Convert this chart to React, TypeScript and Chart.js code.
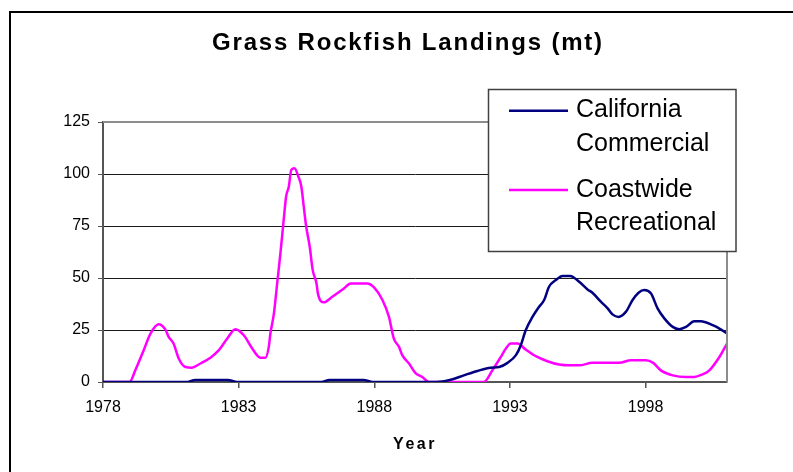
import React, { useEffect, useRef } from 'react';
import { Chart, registerables } from 'chart.js';

Chart.register(...registerables);

const chartTitle = 'Grass Rockfish Landings (mt)';
const xAxisTitle = 'Year';
const yearTicks = [1978, 1983, 1988, 1993, 1998];
const landingTicks = [0, 25, 50, 75, 100, 125];
const seriesNames = ['California Commercial', 'Coastwide Recreational'];
const legendLines = [
  ['California', 'Commercial'],
  ['Coastwide', 'Recreational'],
];
const seriesColors = ['#000080', '#ff00ff'];

const commercialYears = [
  1978, 1981.1, 1981.4, 1982.6, 1982.95, 1986.05, 1986.35, 1987.6, 1987.95, 1990.3,
  1990.82, 1991.3, 1991.8, 1992.29, 1992.6, 1992.91, 1993.22, 1993.4, 1993.58, 1993.83,
  1994.07, 1994.26, 1994.44, 1994.69, 1994.94, 1995.22, 1995.55, 1995.86, 1996.04, 1996.35,
  1996.6, 1996.78, 1997.0, 1997.27, 1997.52, 1997.74, 1997.95, 1998.2, 1998.44, 1998.69,
  1999.0, 1999.24, 1999.49, 1999.79, 2000.04, 2000.47, 2000.72, 2001.0,
];
const commercialLandings = [
  0, 0, 1, 1, 0, 0, 1, 1, 0, 0,
  1.1, 3.2, 5.3, 6.9, 7.2, 9.2, 12.9, 17.7, 24.9, 31.3,
  36.1, 39.4, 45.8, 49, 51, 51, 48.2, 44.5, 42.9, 38.6,
  35.4, 32.5, 31.3, 33.7, 39.4, 42.9, 44.2, 42.5, 35.4, 30.6,
  26.5, 25.4, 26.5, 29.2, 29.2, 27.3, 25.7, 23.3,
];

const recreationalYears = [
  1978, 1978.98, 1979.19, 1979.5, 1979.75, 1980.05, 1980.3, 1980.42, 1980.6, 1980.79,
  1981.04, 1981.28, 1981.59, 1981.96, 1982.27, 1982.58, 1982.88, 1983.19, 1983.5, 1983.8,
  1983.99, 1984.11, 1984.17, 1984.3, 1984.42, 1984.54, 1984.66, 1984.75, 1984.85, 1984.94,
  1985.06, 1985.2, 1985.31, 1985.4, 1985.49, 1985.62, 1985.73, 1985.87, 1985.92, 1986.14,
  1986.45, 1986.88, 1987.13, 1987.74, 1987.99, 1988.3, 1988.54, 1988.72, 1988.91, 1989.03,
  1989.28, 1989.52, 1989.77, 1990.01, 1992.04, 1992.35, 1992.66, 1992.85, 1993.03, 1993.28,
  1993.58, 1993.95, 1994.38, 1994.81, 1995.22, 1995.55, 1996.04, 1997.03, 1997.46, 1998.01,
  1998.28, 1998.56, 1999.0, 1999.49, 1999.79, 2000.1, 2000.35, 2000.72, 2001.0,
];
const recreationalLandings = [
  0, 0, 5.6, 15.3, 23.3, 27.8, 25.2, 21.7, 18.5, 11.3,
  7.2, 6.9, 8.9, 11.7, 15.3, 20.9, 25.4, 22.5, 16.1, 11.7,
  11.7, 16.9, 23.3, 33, 47.4, 61.9, 77.9, 89.2, 94, 102,
  102.8, 98.8, 94, 84.3, 74.7, 65, 53.8, 47.4, 42.6, 38.3,
  41, 45, 47.4, 47.4, 45.5, 39.4, 31.3, 20.9, 16.9, 12.9,
  8.9, 4.3, 2.4, 0, 0, 5.6, 12, 16.1, 18.5, 18.5,
  15.6, 12.4, 10, 8.4, 8, 8, 9.2, 9.2, 10.5, 10.5,
  9.2, 5.6, 3.2, 2.4, 2.4, 3.7, 5.6, 12, 18.5,
];

const FONT = "'Liberation Sans', Arial, Helvetica, sans-serif";

export default function App() {
  const canvasRef = useRef<HTMLCanvasElement | null>(null);

  useEffect(() => {
    const canvas = canvasRef.current;
    if (!canvas) return;

    const decor = {
      id: 'decor',
      afterDraw(chart: any) {
        const ctx = chart.ctx as CanvasRenderingContext2D;
        const a = chart.chartArea;
        ctx.save();

        // plot area border (top & right)
        ctx.strokeStyle = '#8c8c8c';
        ctx.lineWidth = 2;
        ctx.beginPath();
        ctx.moveTo(a.left, a.top);
        ctx.lineTo(a.right, a.top);
        ctx.lineTo(a.right, a.bottom);
        ctx.stroke();

        // title
        ctx.fillStyle = '#000';
        ctx.textAlign = 'center';
        ctx.textBaseline = 'alphabetic';
        ctx.font = `bold 24px ${FONT}`;
        (ctx as any).letterSpacing = '1.8px';
        ctx.fillText(chartTitle, 408, 50);

        // x-axis title
        ctx.font = `bold 16px ${FONT}`;
        (ctx as any).letterSpacing = '2.5px';
        ctx.fillText(xAxisTitle, (a.left + a.right) / 2, 449);
        (ctx as any).letterSpacing = '0px';

        // legend box
        const lx = 488.5, ly = 89.5, lw = 247.5, lh = 162;
        ctx.fillStyle = '#fff';
        ctx.fillRect(lx, ly, lw, lh);
        ctx.strokeStyle = '#404040';
        ctx.lineWidth = 1.5;
        ctx.strokeRect(lx, ly, lw, lh);

        const sampleY = [110.7, 190];
        const baselines = [[117, 151], [197, 230]];
        ctx.font = `25px ${FONT}`;
        ctx.textAlign = 'left';
        chart.data.datasets.forEach((ds: any, i: number) => {
          ctx.strokeStyle = ds.borderColor;
          ctx.lineWidth = 2.5;
          ctx.beginPath();
          ctx.moveTo(509, sampleY[i]);
          ctx.lineTo(568, sampleY[i]);
          ctx.stroke();
          ctx.fillStyle = '#000';
          legendLines[i].forEach((t, j) => ctx.fillText(t, 576, baselines[i][j]));
        });

        ctx.restore();
      },
    };

    const chart = new Chart(canvas, {
      type: 'line',
      data: {
        datasets: [
          {
            label: seriesNames[0],
            data: commercialYears.map((x, i) => ({ x, y: commercialLandings[i] })),
            borderColor: seriesColors[0],
            backgroundColor: seriesColors[0],
            borderWidth: 2.5,
            pointRadius: 0,
            cubicInterpolationMode: 'monotone',
            fill: false,
            order: 0,
          },
          {
            label: seriesNames[1],
            data: recreationalYears.map((x, i) => ({ x, y: recreationalLandings[i] })),
            borderColor: seriesColors[1],
            backgroundColor: seriesColors[1],
            borderWidth: 2.5,
            pointRadius: 0,
            cubicInterpolationMode: 'monotone',
            fill: false,
            order: 1,
          },
        ],
      },
      options: {
        animation: false,
        responsive: false,
        maintainAspectRatio: false,
        layout: { padding: { left: 0, right: 66, top: 122, bottom: 40 } },
        plugins: {
          legend: { display: false },
          title: { display: false },
          tooltip: { enabled: false },
        },
        scales: {
          x: {
            type: 'linear',
            min: 1978,
            max: 2001,
            afterBuildTicks: (s: any) => {
              s.ticks = yearTicks.map((v) => ({ value: v }));
            },
            afterFit: (s: any) => {
              s.height = 50;
            },
            ticks: {
              font: { family: FONT, size: 16 },
              color: '#000',
              padding: 10,
              maxRotation: 0,
              autoSkip: false,
              callback: (v: any) => String(v),
            },
            grid: {
              drawOnChartArea: false,
              drawTicks: true,
              tickLength: 6,
              tickColor: '#555',
              lineWidth: 1.5,
            },
            border: { display: true, color: '#555', width: 2 },
          },
          y: {
            type: 'linear',
            min: 0,
            max: 125,
            afterBuildTicks: (s: any) => {
              s.ticks = landingTicks.map((v) => ({ value: v }));
            },
            afterFit: (s: any) => {
              s.width = 103;
            },
            ticks: {
              font: { family: FONT, size: 16 },
              color: '#000',
              padding: 8,
            },
            grid: {
              color: (c: any) =>
                c.tick && (c.tick.value === 0 || c.tick.value === 125) ? 'rgba(0,0,0,0)' : '#1a1a1a',
              lineWidth: 1,
              drawTicks: true,
              tickLength: 5,
              tickColor: '#555',
            },
            border: { display: true, color: '#555', width: 2 },
          },
        },
      },
      plugins: [decor],
    } as any);

    return () => chart.destroy();
  }, []);

  return (
    <div
      style={{
        position: 'absolute',
        left: 0,
        top: 0,
        width: 793,
        height: 472,
        overflow: 'hidden',
        background: '#fff',
      }}
    >
      <div
        style={{
          position: 'absolute',
          left: 9,
          top: 11,
          right: 0,
          bottom: 0,
          borderLeft: '2px solid #000',
          borderTop: '2px solid #000',
        }}
      />
      <canvas
        ref={canvasRef}
        width={793}
        height={472}
        style={{ position: 'absolute', left: 0, top: 0, width: 793, height: 472 }}
      />
    </div>
  );
}
